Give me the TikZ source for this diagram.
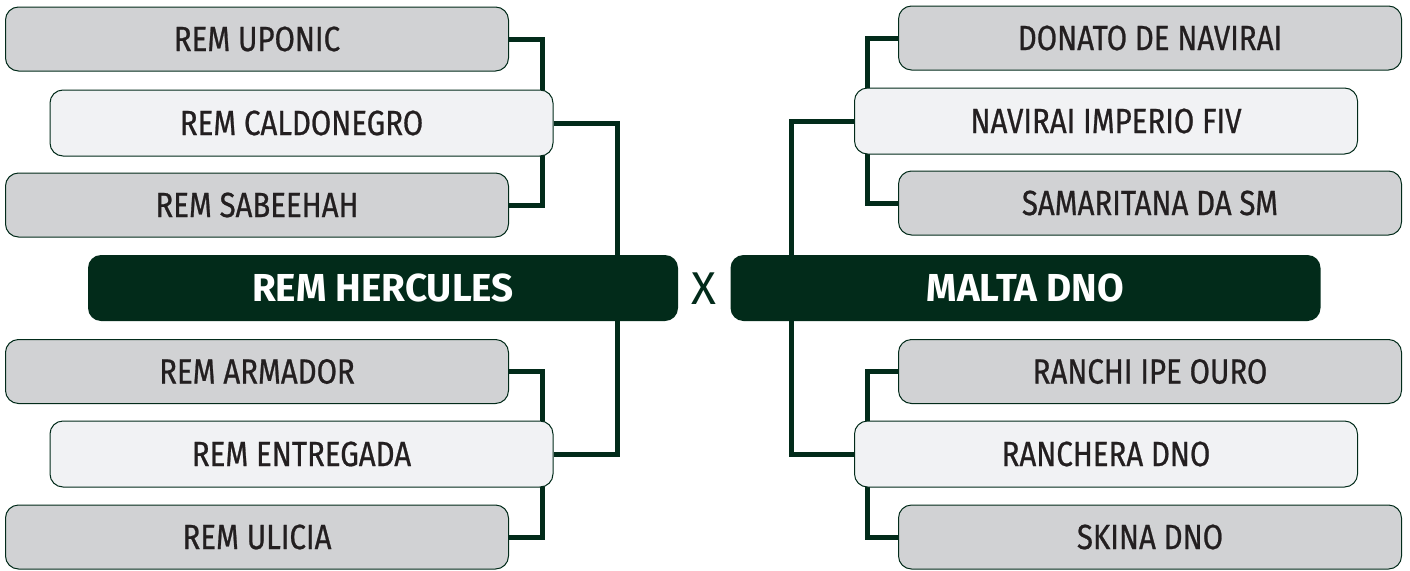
\documentclass[tikz,border=0pt]{standalone}
\usepackage{fontspec}
\setmainfont{Fira Sans}[FakeStretch=0.84, FakeBold=0.7]
\newfontfamily\finalfont{Fira Sans}[FakeStretch=0.99]
\newfontfamily\vsfont{Fira Sans}[FakeStretch=1.0]
\usetikzlibrary{backgrounds}
\definecolor{dkgreen}{HTML}{022B1A}
\definecolor{boxgrey}{HTML}{D1D2D4}
\definecolor{boxlight}{HTML}{F1F2F4}
\definecolor{txtgrey}{HTML}{231F20}
\tikzset{
  teambox/.style={draw=dkgreen, line width=1pt, fill=boxgrey, rounded corners=13pt,
    minimum width=503pt, minimum height=64pt, inner sep=0pt, text=txtgrey,
    font=\fontsize{35}{40}\selectfont},
  seedbox/.style={teambox, fill=boxlight, minimum height=66pt},
  finalbox/.style={fill=dkgreen, rounded corners=13pt, minimum width=590pt,
    minimum height=66pt, inner sep=0pt, text=white,
    font=\finalfont\fontsize{39}{44}\selectfont\bfseries},
  link/.style={draw=dkgreen, line width=5pt},
}
\begin{document}
\begin{tikzpicture}[x=1pt,y=-1pt]
\useasboundingbox (0,0) rectangle (1410,570);
% left side
\node[teambox] (uponic) at (257,39) {REM UPONIC};
\node[seedbox] (caldo) at (301.5,123) {REM CALDONEGRO};
\node[teambox] (sabee) at (257,205) {REM SABEEHAH};
\node[finalbox] (herc) at (383,288) {REM HERCULES};
\node[teambox] (armad) at (257,371.5) {REM ARMADOR};
\node[seedbox] (entre) at (301.5,454) {REM ENTREGADA};
\node[teambox] (ulic) at (257,537) {REM ULICIA};
% middle
\node[text=dkgreen, font=\vsfont\fontsize{46}{48}\selectfont, inner sep=0pt] (vs) at (704,289) {X};
% right side
\node[teambox] (donato) at (1150,38) {DONATO DE NAVIRAI};
\node[seedbox] (imperio) at (1106,121) {NAVIRAI IMPERIO FIV};
\node[teambox] (samar) at (1150,203) {SAMARITANA DA SM};
\node[finalbox] (malta) at (1025.5,288) {MALTA DNO};
\node[teambox] (ranchi) at (1150,371.5) {RANCHI IPE OURO};
\node[seedbox] (ranchera) at (1106,454) {RANCHERA DNO};
\node[teambox] (skina) at (1150,537) {SKINA DNO};
\begin{scope}[on background layer]
  \draw[link] (uponic.east) -- ++(33,0) |- (sabee.east);
  \draw[link] (armad.east) -- ++(33,0) |- (ulic.east);
  \draw[link] (caldo.east) -- ++(64,0) |- (entre.east);
  \draw[link] (donato.west) -- ++(-31,0) |- (samar.west);
  \draw[link] (ranchi.west) -- ++(-31,0) |- (skina.west);
  \draw[link] (imperio.west) -- ++(-63,0) |- (ranchera.west);
\end{scope}
\end{tikzpicture}
\end{document}
